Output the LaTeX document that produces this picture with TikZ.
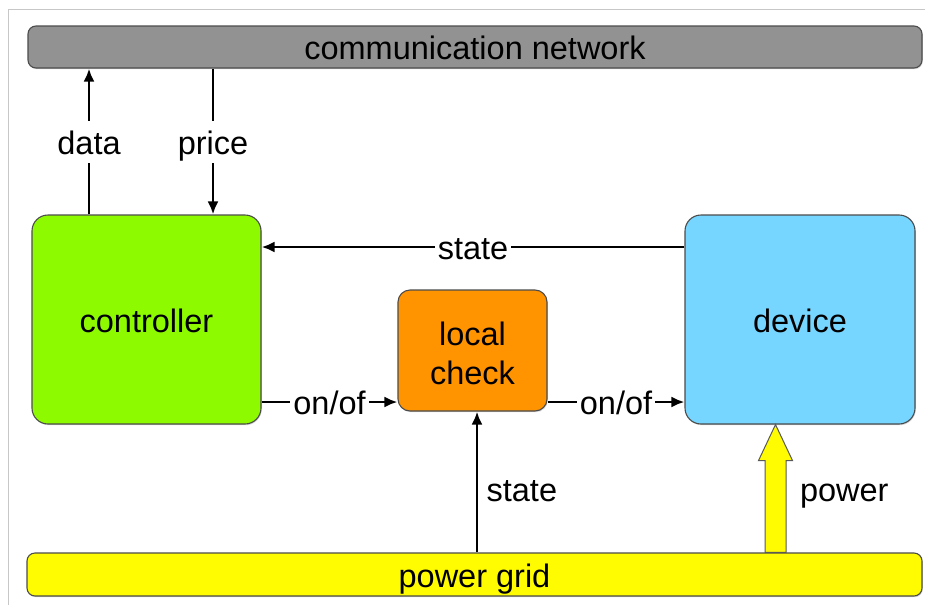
\documentclass[tikz,border=0pt]{standalone}
\usepackage{fontspec}
\setmainfont{Liberation Sans}
\usetikzlibrary{
    arrows.meta,
    calc,
    shadows
}
\definecolor{tin}{HTML}{929292}
\definecolor{lime}{HTML}{8EFA00}
\definecolor{tangerine}{HTML}{FF9300}
\definecolor{sky}{HTML}{76D6FF}
\definecolor{lemon}{HTML}{FFFB00}
\newcommand{\bigtext}{\fontsize{32.5}{39}\selectfont}

\begin{document}
\begin{tikzpicture}[x=1pt, y=-1pt,
    box/.style={draw=black!70, line width=1.1pt, rounded corners=12pt, align=center,
        font=\bigtext, drop shadow={shadow xshift=0.8pt, shadow yshift=-1.2pt, opacity=0.3}},
    bar/.style={box, rounded corners=8pt, text height=27.5pt, text depth=2.5pt},
    arr/.style={line width=2.6pt, -{Latex[length=13pt,width=11pt]}},
    txt/.style={text height=27.5pt, text depth=2.5pt, font=\bigtext},
    lbl/.style={txt, fill=white, inner xsep=3pt, inner ysep=6pt}]
                        \useasboundingbox (0,0) rectangle (925,605);
                        \draw[black!22, line width=1pt] (8.5,605) -- (8.5,9) -- (925,9);
                        \node[bar, fill=tin, minimum width=894pt, minimum height=42pt] (net) at (475, 47) {communication network};
                        \node[box, txt, fill=lime, minimum width=229pt, minimum height=209pt, rounded corners=16pt] (ctrl) at (146.5, 319.5) {controller};
                        \node[box, fill=tangerine, minimum width=149pt, minimum height=121pt] (chk) at (472.5, 350.5) {\rule{0pt}{28.5pt}local\\check};
                        \node[box, txt, fill=sky, minimum width=230pt, minimum height=209pt, rounded corners=16pt] (dev) at (800, 319.5) {device};
                        \node[bar, fill=lemon, minimum width=895pt, minimum height=43pt] (grid) at (474.5, 574.5) {power grid};
                        \coordinate (dt) at ([xshift=-57.5pt]ctrl.north);
                        \coordinate (pr) at ([xshift=66.5pt]ctrl.north);
                        \coordinate (st) at ([yshift=72.5pt]dev.west);
                        \coordinate (sw) at ([yshift=-82.5pt]ctrl.east);
                        \coordinate (sb) at ([xshift=4.5pt]chk.south);
                        \coordinate (ptip) at ([xshift=-24.5pt]dev.south);
                        \coordinate (pbase) at (grid.north -| ptip);
                        \draw[arr] (dt) -- node[lbl] {data} (dt |- net.south);
                        \draw[arr] (pr |- net.south) -- node[lbl] {price} (pr);
                        \draw[arr] (st) -- node[lbl] {state} (ctrl.east |- st);
                        \draw[arr] (sw) -- node[lbl] {on/of} (chk.west |- sw);
                        \draw[arr] (chk.east |- sw) -- node[lbl] {on/of} (dev.west |- sw);
                        \draw[arr] (grid.north -| sb) -- node[txt, right, pos=0.447, xshift=5pt] {state} (sb);
                        \draw[draw=black!65, line width=1pt, fill=lemon]
                        let \p1=(ptip), \p2=(pbase) in
                        (\p1) -- (\x1+17pt,\y1-36pt) -- (\x1+10.5pt,\y1-36pt) -- (\x1+10.5pt,\y2)
                        -- (\x1-10.5pt,\y2) -- (\x1-10.5pt,\y1-36pt) -- (\x1-17pt,\y1-36pt) -- cycle;
                        \path (pbase) -- node[txt, right, pos=0.5, xshift=21pt] (pw) {power} (ptip);
                    \end{tikzpicture}
\end{document}
